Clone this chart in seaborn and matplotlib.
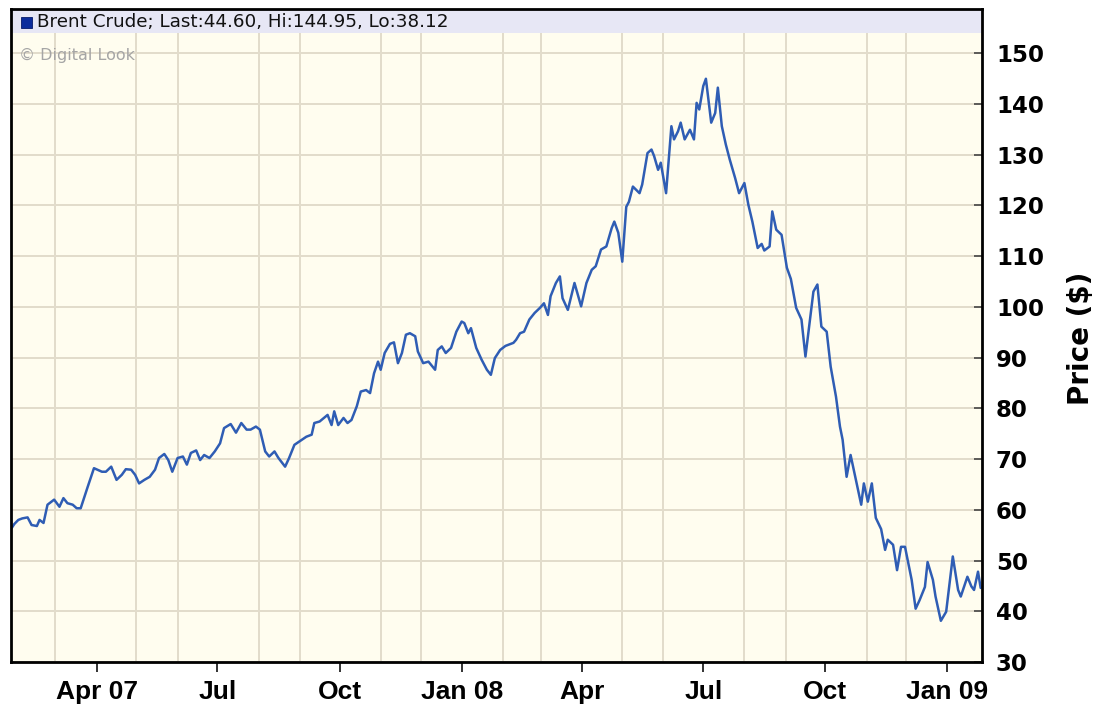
import matplotlib
matplotlib.use("Agg")
import matplotlib.pyplot as plt
import seaborn as sns
import pandas as pd
from matplotlib.patches import Rectangle

# ---------------- data ----------------
dates = [
    "2007-01-27", "2007-01-29", "2007-02-01", "2007-02-04", "2007-02-08", "2007-02-11",
    "2007-02-15", "2007-02-17", "2007-02-20", "2007-02-23", "2007-02-28", "2007-03-04",
    "2007-03-07", "2007-03-10", "2007-03-14", "2007-03-17", "2007-03-20", "2007-03-25",
    "2007-03-30", "2007-04-05", "2007-04-08", "2007-04-12", "2007-04-16", "2007-04-20",
    "2007-04-23", "2007-04-27", "2007-04-30", "2007-05-03", "2007-05-07", "2007-05-11",
    "2007-05-15", "2007-05-18", "2007-05-22", "2007-05-25", "2007-05-28", "2007-06-01",
    "2007-06-05", "2007-06-08", "2007-06-11", "2007-06-15", "2007-06-18", "2007-06-21",
    "2007-06-25", "2007-06-29", "2007-07-03", "2007-07-06", "2007-07-11", "2007-07-15",
    "2007-07-19", "2007-07-23", "2007-07-26", "2007-07-30", "2007-08-02", "2007-08-06",
    "2007-08-09", "2007-08-13", "2007-08-16", "2007-08-21", "2007-08-24", "2007-08-28",
    "2007-09-01", "2007-09-06", "2007-09-10", "2007-09-12", "2007-09-16", "2007-09-22",
    "2007-09-25", "2007-09-27", "2007-09-30", "2007-10-04", "2007-10-07", "2007-10-10",
    "2007-10-14", "2007-10-17", "2007-10-21", "2007-10-24", "2007-10-27", "2007-10-30",
    "2007-11-01", "2007-11-04", "2007-11-08", "2007-11-11", "2007-11-14", "2007-11-17",
    "2007-11-20", "2007-11-23", "2007-11-27", "2007-11-29", "2007-12-03", "2007-12-07",
    "2007-12-12", "2007-12-14", "2007-12-17", "2007-12-20", "2007-12-24", "2007-12-28",
    "2008-01-01", "2008-01-03", "2008-01-06", "2008-01-08", "2008-01-12", "2008-01-16",
    "2008-01-20", "2008-01-23", "2008-01-26", "2008-01-30", "2008-02-03", "2008-02-09",
    "2008-02-11", "2008-02-14", "2008-02-17", "2008-02-21", "2008-02-25", "2008-02-29",
    "2008-03-03", "2008-03-06", "2008-03-08", "2008-03-12", "2008-03-15", "2008-03-17",
    "2008-03-21", "2008-03-26", "2008-03-31", "2008-04-04", "2008-04-08", "2008-04-11",
    "2008-04-15", "2008-04-19", "2008-04-23", "2008-04-25", "2008-04-28", "2008-05-01",
    "2008-05-04", "2008-05-06", "2008-05-09", "2008-05-14", "2008-05-16", "2008-05-20",
    "2008-05-23", "2008-05-25", "2008-05-28", "2008-05-30", "2008-06-03", "2008-06-07",
    "2008-06-09", "2008-06-12", "2008-06-14", "2008-06-17", "2008-06-21", "2008-06-24",
    "2008-06-26", "2008-06-28", "2008-07-01", "2008-07-03", "2008-07-07", "2008-07-10",
    "2008-07-12", "2008-07-15", "2008-07-18", "2008-07-21", "2008-07-25", "2008-07-28",
    "2008-08-01", "2008-08-04", "2008-08-07", "2008-08-11", "2008-08-14", "2008-08-16",
    "2008-08-20", "2008-08-22", "2008-08-25", "2008-08-29", "2008-09-02", "2008-09-05",
    "2008-09-09", "2008-09-13", "2008-09-16", "2008-09-22", "2008-09-25", "2008-09-28",
    "2008-10-02", "2008-10-05", "2008-10-09", "2008-10-12", "2008-10-14", "2008-10-17",
    "2008-10-20", "2008-10-24", "2008-10-28", "2008-10-30", "2008-11-02", "2008-11-05",
    "2008-11-08", "2008-11-12", "2008-11-15", "2008-11-17", "2008-11-21", "2008-11-24",
    "2008-11-27", "2008-11-30", "2008-12-05", "2008-12-08", "2008-12-11", "2008-12-15",
    "2008-12-17", "2008-12-21", "2008-12-23", "2008-12-27", "2008-12-31", "2009-01-05",
    "2009-01-09", "2009-01-11", "2009-01-16", "2009-01-19", "2009-01-21", "2009-01-24",
    "2009-01-26",
]
prices = [
    56.4, 57.2, 58.0, 58.3, 58.5, 57.0,
    56.8, 58.0, 57.4, 61.0, 62.0, 60.6,
    62.3, 61.3, 61.0, 60.3, 60.3, 64.3,
    68.2, 67.5, 67.5, 68.5, 65.9, 66.9,
    68.0, 67.9, 66.9, 65.2, 65.9, 66.5,
    67.9, 70.2, 71.0, 69.8, 67.5, 70.2,
    70.5, 68.9, 71.2, 71.7, 69.8, 70.8,
    70.2, 71.5, 73.1, 76.1, 76.9, 75.2,
    77.1, 75.8, 75.8, 76.4, 75.8, 71.5,
    70.5, 71.5, 70.2, 68.5, 70.2, 72.8,
    73.5, 74.4, 74.8, 77.1, 77.4, 78.7,
    76.7, 79.4, 76.7, 78.1, 77.1, 77.7,
    80.4, 83.3, 83.6, 83.0, 86.9, 89.2,
    87.6, 90.9, 92.7, 93.0, 88.9, 90.9,
    94.5, 94.8, 94.2, 91.2, 88.9, 89.2,
    87.6, 91.5, 92.2, 90.9, 91.9, 95.1,
    97.1, 96.8, 94.8, 95.8, 91.9, 89.6,
    87.6, 86.6, 89.9, 91.5, 92.3, 92.9,
    93.5, 94.8, 95.1, 97.5, 98.8, 99.8,
    100.7, 98.4, 102.1, 104.7, 106.0, 101.7,
    99.4, 104.7, 100.1, 104.7, 107.3, 108.0,
    111.3, 111.9, 115.5, 116.8, 114.6, 108.9,
    119.7, 120.7, 123.7, 122.4, 124.1, 130.3,
    131.0, 129.7, 127.0, 128.4, 122.4, 135.6,
    133.0, 134.6, 136.3, 133.0, 134.9, 133.0,
    140.2, 138.9, 143.5, 144.95, 136.3, 138.2,
    143.2, 135.6, 132.0, 129.0, 125.4, 122.4,
    124.4, 120.1, 116.8, 111.6, 112.4, 111.1,
    111.9, 118.8, 115.2, 114.2, 107.7, 105.5,
    99.8, 97.5, 90.2, 103.0, 104.4, 96.1,
    95.1, 88.2, 82.3, 76.4, 73.8, 66.5,
    70.8, 65.9, 61.0, 65.2, 61.6, 65.2,
    58.4, 56.2, 52.1, 54.1, 53.1, 48.1,
    52.7, 52.7, 46.2, 40.5, 42.2, 44.8,
    49.7, 46.2, 42.9, 38.12, 39.9, 50.8,
    44.2, 42.9, 46.8, 44.9, 44.2, 47.8,
    44.60,
]

quarter_ticks = ["2007-04-01", "2007-07-01", "2007-10-01", "2008-01-01",
                 "2008-04-01", "2008-07-01", "2008-10-01", "2009-01-01"]
quarter_labels = ["Apr 07", "Jul", "Oct", "Jan 08", "Apr", "Jul", "Oct", "Jan 09"]
price_ticks = [30, 40, 50, 60, 70, 80, 90, 100, 110, 120, 130, 140, 150]
header_text = "Brent Crude; Last:44.60, Hi:144.95, Lo:38.12"
watermark = "\u00a9 Digital Look"
y_title = "Price ($)"

# ---------------- style ----------------
sns.set_theme(style="white")
plt.rcParams["font.family"] = ["DejaVu Sans"]

W, H = 1100, 706
fig = plt.figure(figsize=(W / 100, H / 100), dpi=100)
fig.patch.set_facecolor("white")

ax_l, ax_r, ax_t, ax_b = 11, 982, 9, 662
ax = fig.add_axes([ax_l / W, 1 - ax_b / H, (ax_r - ax_l) / W, (ax_b - ax_t) / H])
ax.set_facecolor("#FFFDEF")

df = pd.DataFrame({"date": pd.to_datetime(dates), "price": prices})
sns.lineplot(data=df, x="date", y="price", ax=ax, color="#2F5DB4",
             linewidth=1.8, zorder=3, legend=False)

ax.set_xlim(pd.Timestamp("2007-01-26 12:00"), pd.Timestamp("2009-01-27"))
ax.set_ylim(30, 158.7)

# grid
month_grid = pd.date_range("2007-03-01", "2009-01-01", freq="MS")
ax.set_xticks(pd.to_datetime(quarter_ticks))
ax.set_xticklabels(quarter_labels)
ax.set_xticks(month_grid, minor=True)
ax.set_yticks(price_ticks)
grid_col = "#E2DCCB"
ax.grid(False)
ax.grid(which="minor", axis="x", color=grid_col, linewidth=1.4, zorder=0)
ax.grid(which="major", axis="y", color=grid_col, linewidth=1.4, zorder=0)
ax.set_axisbelow(True)

# axes / ticks
ax.yaxis.tick_right()
ax.tick_params(axis="x", which="major", direction="out", length=7, width=1.4,
               color="#333333", pad=6, labelsize=19, labelcolor="black", bottom=True)
ax.tick_params(axis="x", which="minor", length=0, bottom=False)
ax.tick_params(axis="y", which="major", direction="in", length=6, width=1.2,
               color="#444444", pad=10, labelsize=16.5, labelcolor="black",
               right=True, left=False)
for lab in ax.get_xticklabels():
    lab.set_fontfamily(["Liberation Sans", "DejaVu Sans"])
    lab.set_fontweight("bold")
for lab in ax.get_yticklabels():
    lab.set_fontweight("bold")
ax.set_xlabel("")
ax.set_ylabel("")

for sp in ax.spines.values():
    sp.set_visible(True)
    sp.set_color("black")
    sp.set_linewidth(2.0)
    sp.set_zorder(10)

# header band with legend entry
hdr_bottom = (ax_b - 33) / (ax_b - ax_t)
ax.add_patch(Rectangle((0, hdr_bottom), 1, 1 - hdr_bottom, transform=ax.transAxes,
                       facecolor="#E7E7F5", edgecolor="none", zorder=5))
ax.add_patch(Rectangle(((21 - ax_l) / (ax_r - ax_l), (ax_b - 28) / (ax_b - ax_t)),
                       11 / (ax_r - ax_l), 11 / (ax_b - ax_t), transform=ax.transAxes,
                       facecolor="#0B2C9C", edgecolor="#061A6A", linewidth=0.6, zorder=6))
ax.text((37 - ax_l) / (ax_r - ax_l), (ax_b - 22) / (ax_b - ax_t), header_text,
        transform=ax.transAxes, ha="left", va="center", fontsize=13.2,
        color="#111111", zorder=7)
ax.text((19 - ax_l) / (ax_r - ax_l), (ax_b - 55) / (ax_b - ax_t), watermark,
        transform=ax.transAxes, ha="left", va="center", fontsize=11.5,
        color="#A5A5A5", zorder=7)

fig.text(1081 / W, 1 - 338 / H, y_title, rotation=90, ha="center", va="center",
         fontsize=20, fontweight="bold", color="black")

fig.savefig("out.png", dpi=100, facecolor="white")
